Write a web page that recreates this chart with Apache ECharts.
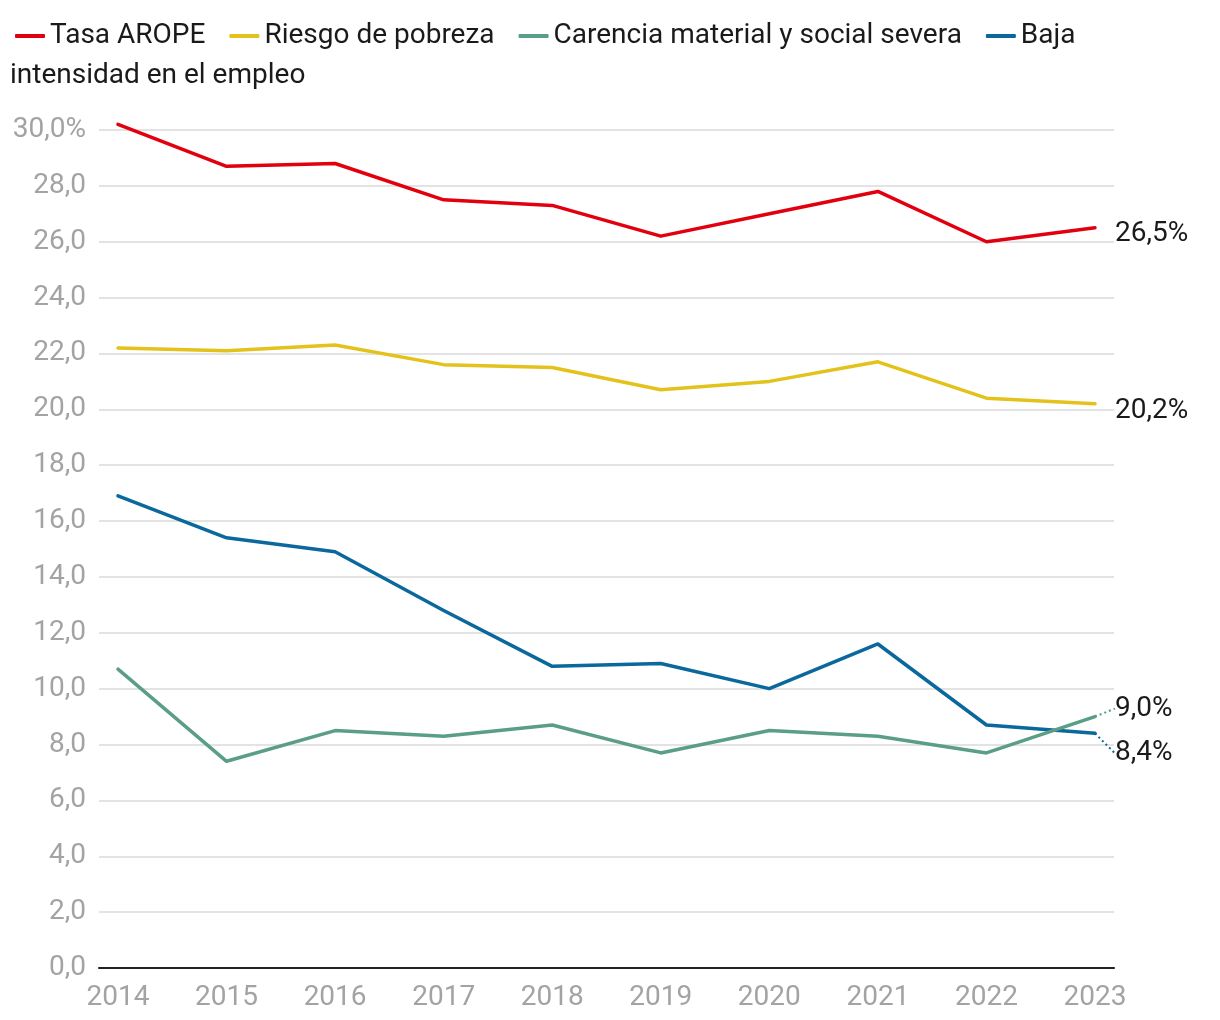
<!DOCTYPE html>
<html>
<head>
<meta charset="utf-8">
<script src="https://cdn.jsdelivr.net/npm/echarts@6/dist/echarts.min.js"></script>
<style>html,body{margin:0;padding:0;background:#fff;}#c{width:1220px;height:1020px;}</style>
</head>
<body>
<div id="c"></div>
<script>
const years = [2014, 2015, 2016, 2017, 2018, 2019, 2020, 2021, 2022, 2023];
const tasaArope = [30.2, 28.7, 28.8, 27.5, 27.3, 26.2, 27.0, 27.8, 26.0, 26.5];
const riesgoPobreza = [22.2, 22.1, 22.3, 21.6, 21.5, 20.7, 21.0, 21.7, 20.4, 20.2];
const carenciaMaterial = [10.7, 7.4, 8.5, 8.3, 8.7, 7.7, 8.5, 8.3, 7.7, 9.0];
const bajaIntensidad = [16.9, 15.4, 14.9, 12.8, 10.8, 10.9, 10.0, 11.6, 8.7, 8.4];
const seriesNames = ['Tasa AROPE', 'Riesgo de pobreza', 'Carencia material y social severa', 'Baja intensidad en el empleo'];
const colors = ['#e2000f', '#e3c21c', '#5b9e86', '#0b689c'];
const labelDy = [6, 7, -8, 20];

const FONT = 'Roboto';
const fmt = v => v.toFixed(1).replace('.', ',');

function buildData(vals) {
  return vals.map((v, i) => {
    if (i === vals.length - 1) {
      return { value: [years[i], v], label: { show: true } };
    }
    return [years[i], v];
  });
}

const allVals = [tasaArope, riesgoPobreza, carenciaMaterial, bajaIntensidad];

const series = allVals.map((vals, k) => ({
  name: seriesNames[k],
  type: 'line',
  data: buildData(vals),
  showSymbol: true,
  symbol: 'circle',
  symbolSize: 0,
  clip: false,
  lineStyle: { width: 3.5, color: colors[k], cap: 'round', join: 'round' },
  itemStyle: { color: colors[k] },
  z: 10 - k,
  label: {
    show: false,
    position: 'right',
    distance: 13,
    padding: [0, 0, 0, 7],
    fontFamily: FONT,
    fontSize: 28,
    color: '#1a1a1a',
    formatter: p => fmt(p.value[1]) + '%'
  },
  labelLine: {
    show: k >= 2,
    lineStyle: { type: [2, 3], width: 2, color: colors[k] }
  },
  labelLayout: { dy: labelDy[k] }
}));

const chart = echarts.init(document.getElementById('c'), null, { renderer: 'canvas' });
chart.setOption({
  animation: false,
  backgroundColor: '#fff',
  color: colors,
  legend: {
    left: 10,
    top: 17,
    icon: 'roundRect',
    itemWidth: 30,
    itemHeight: 4,
    itemGap: 24,
    selectedMode: false,
    textStyle: { fontFamily: FONT, fontSize: 28, color: '#1a1a1a' },
    formatter: name => name === 'Baja intensidad en el empleo' ? 'Baja' : name,
    data: seriesNames
  },
  graphic: [{
    type: 'text',
    left: 10,
    top: 62,
    style: { text: 'intensidad en el empleo', fontFamily: FONT, fontSize: 28, fill: '#1a1a1a' }
  }],
  grid: { left: 99, right: 106, top: 130, bottom: 52, containLabel: false },
  xAxis: {
    type: 'value',
    min: 2013.825,
    max: 2023.175,
    splitLine: { show: false },
    axisTick: { show: false },
    axisLine: { show: true, onZero: false, lineStyle: { color: '#222', width: 2 } },
    axisLabel: {
      customValues: years,
      fontFamily: FONT,
      fontSize: 28,
      color: '#a3a3a3',
      margin: 16,
      formatter: v => String(v)
    }
  },
  yAxis: {
    type: 'value',
    min: 0,
    max: 30,
    interval: 2,
    axisLine: { show: false },
    axisTick: { show: false },
    splitLine: { lineStyle: { color: '#e3e3e3', width: 2 } },
    axisLabel: {
      fontFamily: FONT,
      fontSize: 28,
      color: '#a3a3a3',
      margin: 13,
      padding: [5, 0, 0, 0],
      formatter: v => v === 30 ? fmt(v) + '%' : fmt(v)
    }
  },
  series: series
});
</script>
</body>
</html>
